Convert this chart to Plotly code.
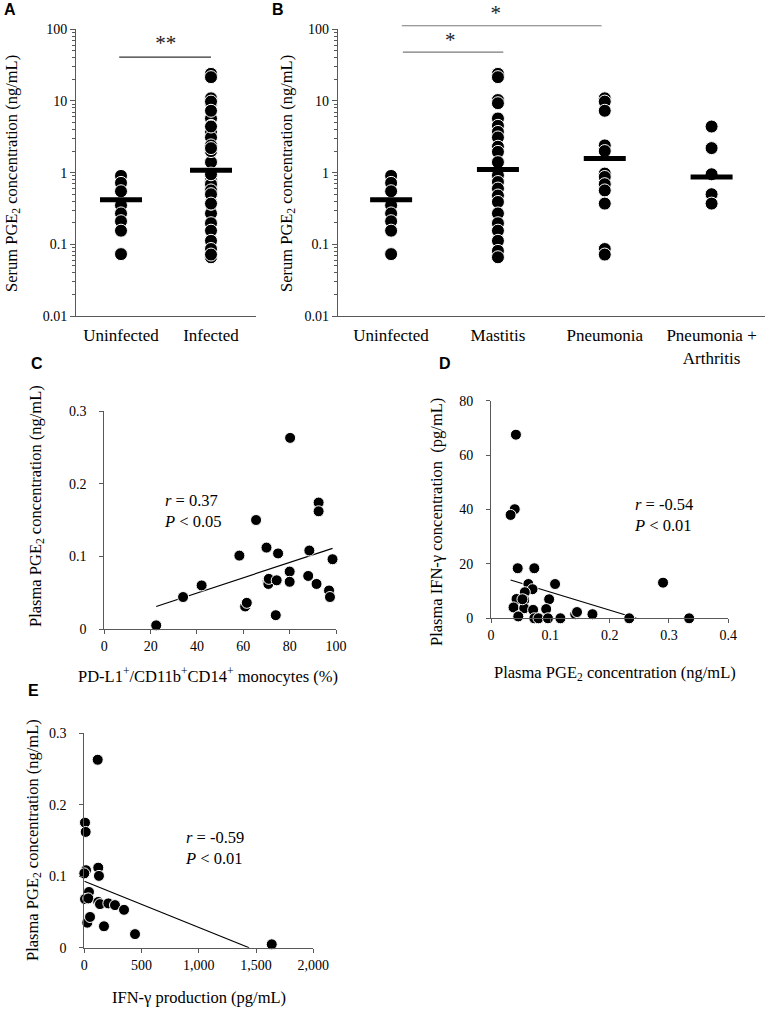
import plotly.graph_objects as go

W, H = 767, 1009

# ---------------- Data ----------------
# Panels A / B : serum PGE2 (ng/mL)
uninfected = [0.90, 0.72, 0.55, 0.35, 0.27, 0.21, 0.155, 0.073]
mastitis = [23.9, 21.5, 10.3, 9.3, 5.7, 4.5, 3.7, 3.1, 2.3, 1.95, 1.4, 0.92, 0.74,
            0.60, 0.48, 0.39, 0.27, 0.197, 0.155, 0.112, 0.081, 0.066]
pneumonia = [10.9, 9.8, 7.3, 2.4, 2.0, 0.97, 0.87, 0.69, 0.565, 0.37, 0.086, 0.072]
pneu_arth = [4.4, 2.2, 0.95, 0.50, 0.37]
infected = mastitis + pneumonia + pneu_arth

cats_a = ["Uninfected", "Infected"]
means_a = [0.42, 1.08]
cats_b = ["Uninfected", "Mastitis", "Pneumonia", "Pneumonia +<br>Arthritis"]
means_b = [0.42, 1.11, 1.57, 0.87]
log_ticks = [0.01, 0.1, 1, 10, 100]
log_ticktext = ["0.01", "0.1", "1", "10", "100"]
LOG_RANGE = [-2, 2]

# significance brackets (category positions, y value) and stars (x, y, label)
sig_a_x, sig_a_y = [-0.02, 1.0], 41
sig_b1_x, sig_b1_y = [0.11, 1.05], 48
sig_b2_x, sig_b2_y = [0.10, 1.97], 112
star_a = (0.496, 60, "**")
star_b1 = (0.554, 68, "*")
star_b2 = (0.979, 158, "*")

# Panel C
pdl1_c = [22.4, 34, 42, 58.3, 60.8, 61.5, 65.5, 70, 70.5, 70.8, 71, 74, 74.4, 75, 80, 80,
          80.2, 88, 88.5, 91.6, 92.5, 92.5, 97, 97.4, 98.5]
pge2_c = [0.005, 0.044, 0.060, 0.101, 0.031, 0.036, 0.150, 0.112, 0.066, 0.062, 0.069,
          0.019, 0.067, 0.104, 0.079, 0.065, 0.263, 0.073, 0.108, 0.062, 0.174, 0.162,
          0.053, 0.044, 0.096]
fit_c_x, fit_c_y = [22.4, 98.5], [0.031, 0.111]

# Panel D
pge2_d = [0.042, 0.040, 0.033, 0.045, 0.073, 0.063, 0.108, 0.070, 0.057, 0.043,
          0.056, 0.098, 0.038, 0.056, 0.071, 0.093, 0.046, 0.073, 0.080, 0.096,
          0.117, 0.142, 0.145, 0.171, 0.233, 0.290, 0.334, 0.053]
ifng_d = [67.5, 40.1, 38.0, 18.4, 18.4, 12.6, 12.6, 10.7, 9.6, 7.1,
          6.7, 7.0, 4.0, 3.7, 3.1, 3.4, 0.7, 0.0, 0.0, 0.0,
          0.0, 1.5, 2.3, 1.5, 0.0, 13.1, 0.0, 7.0]
fit_d_x, fit_d_y = [0.033, 0.245], [14.1, 0.0]

# Panel E
ifng_e = [117, 6, 12, 122, 128, 15, 0, 41, 6, 35, 122, 137, 210, 268, 347, 26, 50,
          172, 443, 1637]
pge2_e = [0.263, 0.175, 0.162, 0.112, 0.1005, 0.1085, 0.104, 0.078, 0.068, 0.069,
          0.064, 0.061, 0.062, 0.0596, 0.053, 0.035, 0.043, 0.030, 0.019, 0.0047]
fit_e_x, fit_e_y = [0, 1440], [0.093, 0.0]

# ---------------- Style ----------------
SERIF = "Liberation Serif"
SANS = "Liberation Sans"
AX = "#595959"

# plot-area boxes in pixels (left, right, top, bottom)
BOX_A = (76, 256, 29.3, 316)
BOX_B = (337.7, 765, 29.3, 316)
BOX_C = (104.3, 336, 411, 629)
BOX_D = (491, 728.3, 400.7, 618.3)
BOX_E = (84.3, 313.3, 733.3, 947.7)


def dx(box):
    return [box[0] / W, box[1] / W]


def dy(box, top=None):
    t = box[2] if top is None else top
    return [1 - box[3] / H, 1 - t / H]


def ext_range(box, top):
    # log range for an invisible axis sharing the same scale but reaching higher
    per = (box[3] - box[2]) / (LOG_RANGE[1] - LOG_RANGE[0])
    return [LOG_RANGE[0], LOG_RANGE[0] + (box[3] - top) / per]


fig = go.Figure()

big_marker = dict(size=13, color="black", line=dict(color="white", width=1))
small_marker = dict(size=11, color="black", line=dict(color="white", width=1))
mean_marker = dict(symbol="line-ew", size=30, line=dict(width=5, color="black"))


def add_dots(groups, means, xa, ya):
    for i, vals in enumerate(groups):
        fig.add_trace(go.Scatter(x=[i] * len(vals), y=vals, mode="markers",
                                 marker=big_marker, xaxis=xa, yaxis=ya,
                                 showlegend=False, cliponaxis=False, hoverinfo="skip"))
    fig.add_trace(go.Scatter(x=list(range(len(means))), y=means, mode="markers",
                             marker=mean_marker, xaxis=xa, yaxis=ya,
                             showlegend=False, cliponaxis=False, hoverinfo="skip"))


add_dots([uninfected, infected], means_a, "x", "y")
add_dots([uninfected, mastitis, pneumonia, pneu_arth], means_b, "x2", "y2")

# brackets + stars on invisible companion axes (same scale, taller)
for bx, by, xa, ya, col in [(sig_a_x, sig_a_y, "x6", "y6", "#333333"),
                            (sig_b1_x, sig_b1_y, "x7", "y7", "#7a7a7a"),
                            (sig_b2_x, sig_b2_y, "x7", "y7", "#7a7a7a")]:
    fig.add_trace(go.Scatter(x=bx, y=[by, by], mode="lines", line=dict(color=col, width=1.2),
                             xaxis=xa, yaxis=ya, showlegend=False, hoverinfo="skip"))
for (sx, sy, st), xa, ya in [(star_a, "x6", "y6"), (star_b1, "x7", "y7"), (star_b2, "x7", "y7")]:
    fig.add_trace(go.Scatter(x=[sx], y=[sy], mode="text", text=[st], textposition="middle center",
                             textfont=dict(family=SERIF, size=21, color="#222222"),
                             xaxis=xa, yaxis=ya, showlegend=False, cliponaxis=False,
                             hoverinfo="skip"))

# scatter panels
for xs, ys, fx, fy, xa, ya in [(pdl1_c, pge2_c, fit_c_x, fit_c_y, "x3", "y3"),
                               (pge2_d, ifng_d, fit_d_x, fit_d_y, "x4", "y4"),
                               (ifng_e, pge2_e, fit_e_x, fit_e_y, "x5", "y5")]:
    fig.add_trace(go.Scatter(x=fx, y=fy, mode="lines", line=dict(color="black", width=1.2),
                             xaxis=xa, yaxis=ya, showlegend=False, hoverinfo="skip"))
    fig.add_trace(go.Scatter(x=xs, y=ys, mode="markers", marker=small_marker,
                             xaxis=xa, yaxis=ya, showlegend=False, cliponaxis=False,
                             hoverinfo="skip"))

base = dict(showline=True, linecolor=AX, linewidth=1, showgrid=False, zeroline=False,
            ticks="outside", ticklen=5, tickcolor=AX, tickwidth=1,
            tickfont=dict(family=SERIF, size=14, color="black"))

logy = dict(base, type="log", range=LOG_RANGE, tickmode="array", tickvals=log_ticks,
            ticktext=log_ticktext,
            minor=dict(ticks="outside", ticklen=3, tickcolor=AX, dtick="D1", showgrid=False))

catx = dict(base, ticks="", tickfont=dict(family=SERIF, size=17, color="black"),
            ticklabelstandoff=4)

lin = dict(base, ticklen=4, tickfont=dict(family=SERIF, size=14, color="black"))
liny = dict(lin, ticklabelstandoff=10)

hidden = dict(visible=False, showgrid=False, zeroline=False, fixedrange=True)

fig.update_layout(
    width=W, height=H, autosize=False,
    margin=dict(l=0, r=0, t=0, b=0, pad=0, autoexpand=False),
    paper_bgcolor="white", plot_bgcolor="rgba(0,0,0,0)",
    hovermode=False,
    xaxis=dict(catx, domain=dx(BOX_A), range=[-0.5, 1.5], tickmode="array",
               tickvals=list(range(len(cats_a))), ticktext=cats_a, anchor="y"),
    yaxis=dict(logy, domain=dy(BOX_A), anchor="x"),
    xaxis2=dict(catx, domain=dx(BOX_B), range=[-0.5, 3.5], tickmode="array",
                tickvals=list(range(len(cats_b))), ticktext=cats_b, anchor="y2"),
    yaxis2=dict(logy, domain=dy(BOX_B), anchor="x2"),
    xaxis3=dict(lin, domain=dx(BOX_C), range=[0, 100], tickmode="array",
                tickvals=[0, 20, 40, 60, 80, 100], anchor="y3"),
    yaxis3=dict(liny, domain=dy(BOX_C), range=[0, 0.3], tickmode="array",
                tickvals=[0, 0.1, 0.2, 0.3], ticktext=["0", "0.1", "0.2", "0.3"], anchor="x3"),
    xaxis4=dict(lin, domain=dx(BOX_D), range=[0, 0.4], tickmode="array",
                tickvals=[0, 0.1, 0.2, 0.3, 0.4], ticktext=["0", "0.1", "0.2", "0.3", "0.4"],
                anchor="y4"),
    yaxis4=dict(liny, domain=dy(BOX_D), range=[0, 80], tickmode="array",
                tickvals=[0, 20, 40, 60, 80], anchor="x4"),
    xaxis5=dict(lin, domain=dx(BOX_E), range=[0, 2000], tickmode="array",
                tickvals=[0, 500, 1000, 1500, 2000],
                ticktext=["0", "500", "1,000", "1,500", "2,000"], anchor="y5"),
    yaxis5=dict(liny, domain=dy(BOX_E), range=[0, 0.3], tickmode="array",
                tickvals=[0, 0.1, 0.2, 0.3], ticktext=["0", "0.1", "0.2", "0.3"], anchor="x5"),
    xaxis6=dict(hidden, domain=dx(BOX_A), range=[-0.5, 1.5], anchor="y6"),
    yaxis6=dict(hidden, type="log", domain=dy(BOX_A, top=0), range=ext_range(BOX_A, 0),
                anchor="x6"),
    xaxis7=dict(hidden, domain=dx(BOX_B), range=[-0.5, 3.5], anchor="y7"),
    yaxis7=dict(hidden, type="log", domain=dy(BOX_B, top=0), range=ext_range(BOX_B, 0),
                anchor="x7"),
)

ann = []


def text(x, y, t, size=16.5, family=SERIF, angle=0, xanchor="center", align="center"):
    ann.append(dict(x=x / W, y=1 - y / H, xref="paper", yref="paper", text=t,
                    showarrow=False, textangle=angle, xanchor=xanchor, yanchor="middle",
                    align=align,
                    font=dict(family=family, size=size, color="black")))


# panel labels
for lab, x, y in [("A", 10, 10), ("B", 278, 10), ("C", 36.7, 363), ("D", 445, 363), ("E", 33, 690)]:
    text(x, y, "<b>%s</b>" % lab, size=16, family=SANS)

# y titles
pge_serum = "Serum PGE<sub>2</sub> concentration (ng/mL)"
pge_plasma = "Plasma PGE<sub>2</sub> concentration (ng/mL)"
text(12, 174, pge_serum, angle=-90)
text(287, 174, pge_serum, angle=-90)
text(36, 506, pge_plasma, angle=-90)
text(436, 522, "Plasma IFN-γ concentration  (pg/mL)", angle=-90)
text(33, 840, pge_plasma, angle=-90)

# x titles
text(208, 675, "PD-L1<sup>+</sup>/CD11b<sup>+</sup>CD14<sup>+</sup> monocytes (%)")
text(615, 673, pge_plasma)
text(198.5, 997.7, "IFN-γ production (pg/mL)")

# stats
text(162.3, 510.5, "<i>r</i> = 0.37<br><i>P</i> &lt; 0.05", xanchor="left", align="left")
text(632.3, 514.5, "<i>r</i> = -0.54<br><i>P</i> &lt; 0.01", xanchor="left", align="left")
text(183.3, 848, "<i>r</i> = -0.59<br><i>P</i> &lt; 0.01", xanchor="left", align="left")

fig.update_layout(annotations=ann)

fig.write_html("out.html", config={"displayModeBar": False},
               post_script="document.body.style.margin='0';document.body.style.overflow='hidden';")
